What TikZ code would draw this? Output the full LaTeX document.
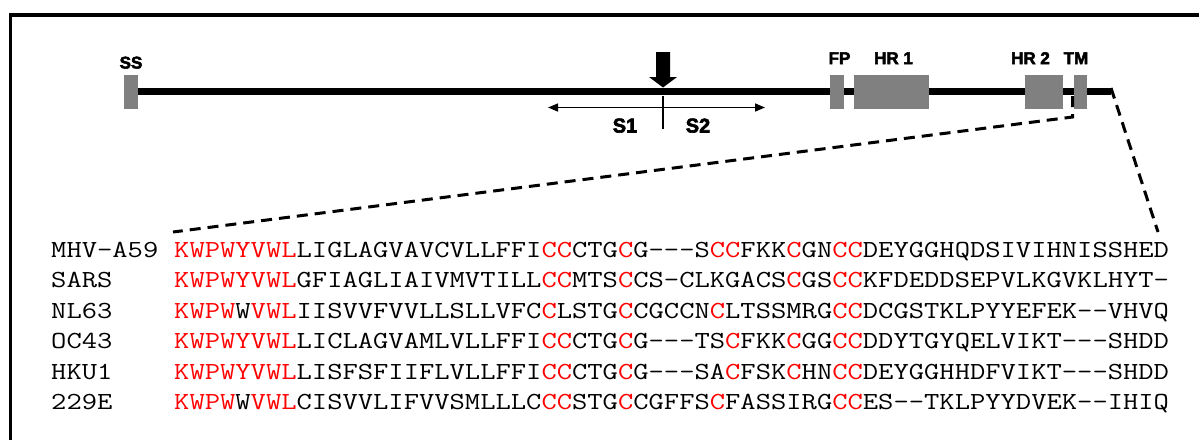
\documentclass[tikz,border=0pt]{standalone}
\usepackage{fontspec}
\setmainfont{Liberation Sans}
\newfontfamily\heavyfont{Liberation Sans}[FakeBold=3]
\usetikzlibrary{arrows.meta}
\definecolor{domaingray}{HTML}{808080}
\definecolor{motifred}{HTML}{FF0000}
\newcommand{\rd}[1]{\textcolor{motifred}{#1}}
% typewriter residues, widened to a 15.3pt pitch
\newcommand{\seqline}[1]{\scalebox{1.213}[1]{\ttfamily\fontsize{24.5}{30}\selectfont #1}}
\begin{document}
\begin{tikzpicture}[x=1pt,y=-1pt,
  dombox/.style={fill=domaingray, draw=none, inner sep=0pt, minimum height=34pt},
  domlabel/.style={font=\heavyfont\bfseries\fontsize{17}{19}\selectfont, inner sep=0pt, anchor=base},
  cutlabel/.style={font=\heavyfont\bfseries\fontsize{20}{22}\selectfont, inner sep=0pt, anchor=base},
  seqtext/.style={inner sep=0pt, anchor=base west},
  zoomline/.style={line width=3pt, dash pattern=on 11pt off 7pt},
  thinline/.style={line width=1.5pt},
]
\useasboundingbox (0,0) rectangle (1199,440);

% frame (top and left edges)
\draw[line width=3.4pt] (10.7,440) -- (10.7,15) -- (1199,15);

% spike backbone
\coordinate (nterm) at (131,91.5);
\coordinate (cterm) at (1111,91.5);
\draw[line width=7pt] (nterm) -- (cterm);

% domains
\node[dombox, minimum width=14pt] (ss)  at (131,91.5) {};
\node[dombox, minimum width=14pt] (fp)  at (837,91.5) {};
\node[dombox, minimum width=75pt] (hr1) at (891.5,91.5) {};
\node[dombox, minimum width=38pt] (hr2) at (1044,91.5) {};
\node[dombox, minimum width=13pt] (tm)  at (1080.5,91.5) {};

% domain labels
\node[domlabel] (ss-lab)  at (131,68.5) {SS};
\node[domlabel] (fp-lab)  at (839.5,64) {FP};
\node[domlabel] (hr1-lab) at (893.5,64) {HR 1};
\node[domlabel] (hr2-lab) at (1030.5,64) {HR 2};
\node[domlabel] (tm-lab)  at (1076,64) {TM};

% cleavage site arrow
\fill (656,52) -- (670,52) -- (670,77) -- (677,77) -- (663,87.5)
      -- (649,77) -- (656,77) -- cycle;

% S1 / S2 subunits
\coordinate (s1end) at (548,107.5);
\coordinate (s2end) at (765,107.5);
\coordinate (cut-top) at (663,96);
\coordinate (cut-bot) at (663,129);
\draw[thinline, {Triangle[length=10pt,width=8pt]}-{Triangle[length=10pt,width=8pt]}] (s1end) -- (s2end);
\draw[thinline] (cut-top) -- (cut-bot);
\node[cutlabel] (s1-lab) at (625,132.5) {S1};
\node[cutlabel] (s2-lab) at (698,132.5) {S2};

% zoom-in onto the membrane-proximal region
\coordinate (tm-top)   at (1072.5,96);
\coordinate (tm-bend)  at (1072.5,117);
\coordinate (seq-left) at (173,232);
\coordinate (seq-right) at (1158,232);
\draw[zoomline] (tm-top) -- (tm-bend) -- (seq-left);
\draw[zoomline] ([yshift=3.5pt]cterm) -- (seq-right);

% alignment: virus names
\node[seqtext] (n1) at (51,257)   {\seqline{MHV-A59}};
\node[seqtext] (n2) at (51,287.5) {\seqline{SARS}};
\node[seqtext] (n3) at (51,318)   {\seqline{NL63}};
\node[seqtext] (n4) at (51,348.5) {\seqline{OC43}};
\node[seqtext] (n5) at (51,379)   {\seqline{HKU1}};
\node[seqtext] (n6) at (51,409.5) {\seqline{229E}};

% alignment: sequences
\node[seqtext] (q1) at (174,257)
  {\seqline{\rd{KWPWYVWL}LIGLAGVAVCVLLFFI\rd{CC}CTG\rd{C}G---S\rd{CC}FKK\rd{C}GN\rd{CC}DEYGGHQDSIVIHNISSHED}};
\node[seqtext] (q2) at (174,287.5)
  {\seqline{\rd{KWPWYVWL}GFIAGLIAIVMVTILL\rd{CC}MTS\rd{C}CS-CLKGACS\rd{C}GS\rd{CC}KFDEDDSEPVLKGVKLHYT-}};
\node[seqtext] (q3) at (174,318)
  {\seqline{\rd{KWPW}W\rd{VWL}IISVVFVVLLSLLVFC\rd{C}LSTG\rd{C}CGCCN\rd{C}LTSSMRG\rd{CC}DCGSTKLPYYEFEK--VHVQ}};
\node[seqtext] (q4) at (174,348.5)
  {\seqline{\rd{KWPWYVWL}LICLAGVAMLVLLFFI\rd{CC}CTG\rd{C}G---TS\rd{C}FKK\rd{C}GG\rd{CC}DDYTGYQELVIKT---SHDD}};
\node[seqtext] (q5) at (174,379)
  {\seqline{\rd{KWPWYVWL}LISFSFIIFLVLLFFI\rd{CC}CTG\rd{C}G---SA\rd{C}FSK\rd{C}HN\rd{CC}DEYGGHHDFVIKT---SHDD}};
\node[seqtext] (q6) at (174,409.5)
  {\seqline{\rd{KWPW}W\rd{VWL}CISVVLIFVVSMLLLC\rd{CC}STG\rd{C}CGFFS\rd{C}FASSIRG\rd{CC}ES--TKLPYYDVEK--IHIQ}};
\end{tikzpicture}
\end{document}
